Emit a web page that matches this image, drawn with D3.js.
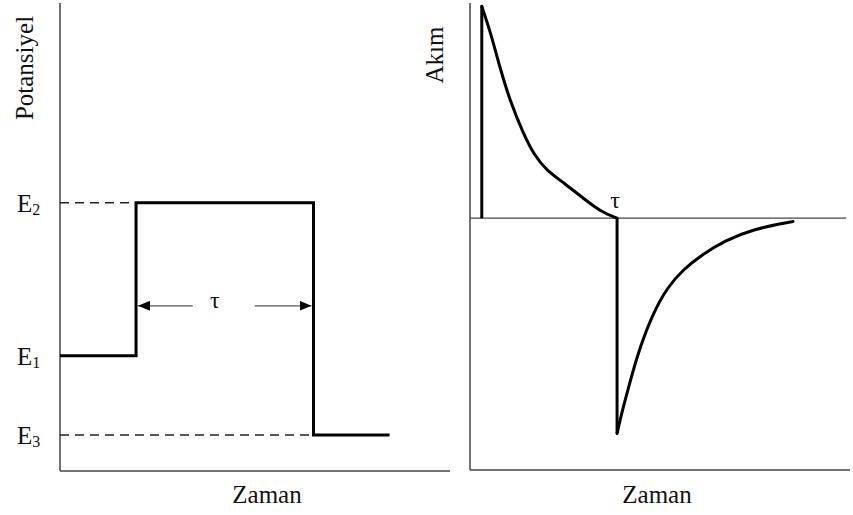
<!DOCTYPE html>
<html>
<head>
<meta charset="utf-8">
<script src="https://cdn.jsdelivr.net/npm/d3@7"></script>
<style>
  html, body { margin: 0; padding: 0; background: #fff; }
</style>
</head>
<body>
<svg id="chart" width="853" height="515"></svg>
<script>
// ---- Potential step program (left panel) ----
const stepTimes = [0, 1.95, 1.95, 6.5, 6.5, 8.45];
const stepPotentials = [2.46, 2.46, 5.73, 5.73, 0.77, 0.77];
const levelNames = ["E1", "E2", "E3"];
const levelValues = [2.46, 5.73, 0.77];
const levelEnds = [0, 1.95, 6.5];      // dashed guide runs from the axis to this time
const pulseSpan = [1.95, 6.5];          // τ between the two steps
const pulseArrowLevel = 3.53;

// ---- Current response (right panel) ----
const anodicTimes = [0.31, 0.31, 0.545, 0.782, 1.045, 1.395, 1.7, 2.0, 2.5, 3.0, 3.45, 3.87];
const anodicCurrent = [0, 0.985, 0.861, 0.703, 0.549, 0.396, 0.29, 0.225, 0.16, 0.09, 0.03, 0];
const cathodicTimes = [3.87, 3.87, 4.0, 4.21, 4.47, 4.82, 5.2, 5.6, 6.1, 6.7, 7.45, 8.5];
const cathodicCurrent = [0, -1.0, -0.9, -0.76, -0.6, -0.44, -0.32, -0.24, -0.17, -0.105, -0.05, -0.015];
const tauTime = 3.87;

const FONT = "'Liberation Serif', 'Times New Roman', Times, 'DejaVu Serif', serif";
const svg = d3.select("#chart");
const axisColor = "#444";

function label(g, txt, size) {
  return g.append("text").attr("font-family", FONT).attr("font-size", size)
    .attr("fill", "#111").text(txt);
}

// ---------- Left panel ----------
const xL = d3.scaleLinear().domain([0, 10]).range([60, 450]);
const yL = d3.scaleLinear().domain([0, 10]).range([471, 3]);

const left = svg.append("g");

// axes (plain lines, no ticks)
left.append("line").attr("x1", xL(0)).attr("x2", xL(0)).attr("y1", yL(10)).attr("y2", yL(0))
  .attr("stroke", axisColor).attr("stroke-width", 1.5);
left.append("line").attr("x1", xL(0)).attr("x2", xL(10)).attr("y1", yL(0)).attr("y2", yL(0))
  .attr("stroke", axisColor).attr("stroke-width", 1.5);

// dashed guides for E2 and E3, level names with subscripts
levelNames.forEach((n, i) => {
  if (levelEnds[i] > 0) {
    left.append("line")
      .attr("x1", xL(0)).attr("x2", xL(levelEnds[i]))
      .attr("y1", yL(levelValues[i])).attr("y2", yL(levelValues[i]))
      .attr("stroke", "#222").attr("stroke-width", 1.5)
      .attr("stroke-dasharray", "9,6");
  }
  const t = left.append("text").attr("font-family", FONT).attr("fill", "#111")
    .attr("x", 17).attr("y", yL(levelValues[i]) + 9)
    .attr("font-size", 25);
  t.append("tspan").text(n[0]);
  t.append("tspan").attr("font-size", 16).attr("dy", 3).text(n.slice(1));
});

// step waveform
const stepLine = d3.line().x((d, i) => xL(stepTimes[i])).y(d => yL(d));
left.append("path").datum(stepPotentials)
  .attr("d", stepLine)
  .attr("fill", "none").attr("stroke", "#000").attr("stroke-width", 3)
  .attr("stroke-linejoin", "miter");

// τ dimension arrows
const defs = svg.append("defs");
defs.append("marker").attr("id", "head")
  .attr("viewBox", "0 0 12 10").attr("refX", 12).attr("refY", 5)
  .attr("markerWidth", 12).attr("markerHeight", 10).attr("markerUnits", "userSpaceOnUse")
  .attr("orient", "auto")
  .append("path").attr("d", "M0,0 L12,5 L0,10 Z").attr("fill", "#000");

const mid = (pulseSpan[0] + pulseSpan[1]) / 2;
const ay = yL(pulseArrowLevel);
left.append("line")
  .attr("x1", xL(mid) - 32).attr("x2", xL(pulseSpan[0]) + 2)
  .attr("y1", ay).attr("y2", ay)
  .attr("stroke", "#555").attr("stroke-width", 1.3).attr("marker-end", "url(#head)");
left.append("line")
  .attr("x1", xL(mid) + 30).attr("x2", xL(pulseSpan[1]) - 2)
  .attr("y1", ay).attr("y2", ay)
  .attr("stroke", "#555").attr("stroke-width", 1.3).attr("marker-end", "url(#head)");
label(left, "τ", 24).attr("x", xL(mid) - 10).attr("y", ay + 2).attr("text-anchor", "middle");

label(left, "Potansiyel", 25).attr("transform", "translate(33,68) rotate(-90)")
  .attr("text-anchor", "middle");
label(left, "Zaman", 25).attr("x", 267).attr("y", 503).attr("text-anchor", "middle");

// ---------- Right panel ----------
const xR = d3.scaleLinear().domain([0, 10]).range([470, 850]);
const yR = d3.scaleLinear().domain([-1.17, 1]).range([470, 3]);

const right = svg.append("g");
right.append("line").attr("x1", xR(0)).attr("x2", xR(0)).attr("y1", yR(1)).attr("y2", yR(-1.17))
  .attr("stroke", axisColor).attr("stroke-width", 1.5);
right.append("line").attr("x1", xR(0)).attr("x2", xR(10)).attr("y1", yR(-1.17)).attr("y2", yR(-1.17))
  .attr("stroke", axisColor).attr("stroke-width", 1.5);
right.append("line").attr("x1", xR(0)).attr("x2", xR(9.9)).attr("y1", yR(0)).attr("y2", yR(0))
  .attr("stroke", axisColor).attr("stroke-width", 1.3);

const curve = (times) => d3.line()
  .x((d, i) => xR(times[i])).y(d => yR(d))
  .curve(d3.curveBasis);

// vertical jumps drawn straight, decays drawn smooth
function drawBranch(times, vals) {
  right.append("line")
    .attr("x1", xR(times[0])).attr("x2", xR(times[1]))
    .attr("y1", yR(vals[0])).attr("y2", yR(vals[1]))
    .attr("stroke", "#000").attr("stroke-width", 3);
  right.append("path").datum(vals.slice(1))
    .attr("d", curve(times.slice(1)))
    .attr("fill", "none").attr("stroke", "#000").attr("stroke-width", 3)
    .attr("stroke-linecap", "round");
}
drawBranch(anodicTimes, anodicCurrent);
drawBranch(cathodicTimes, cathodicCurrent);

label(right, "τ", 24).attr("x", xR(tauTime) - 2).attr("y", yR(0) - 10).attr("text-anchor", "middle");
label(right, "Akım", 25).attr("transform", "translate(443,55) rotate(-90)")
  .attr("text-anchor", "middle");
label(right, "Zaman", 25).attr("x", 657).attr("y", 503).attr("text-anchor", "middle");
</script>
</body>
</html>
